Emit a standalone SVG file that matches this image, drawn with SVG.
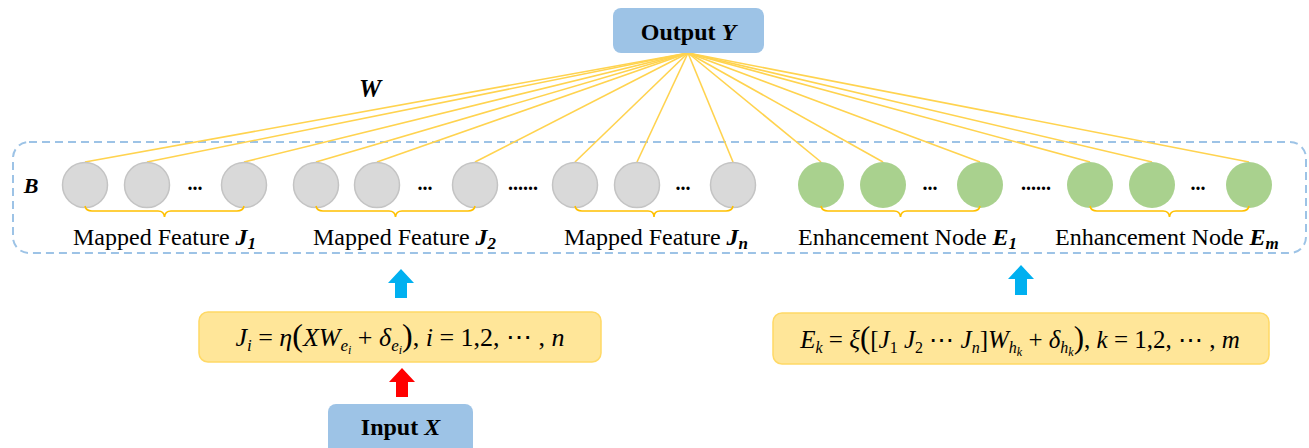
<svg xmlns="http://www.w3.org/2000/svg" width="1309" height="448" viewBox="0 0 1309 448">
<style>
.box{fill:#9DC3E6}
.fbox{fill:#FFE699;stroke:#FFD966;stroke-width:1.5}
.bi{font-weight:bold;font-style:italic}
.i{font-style:italic}
.g{fill:#D9D9D9;stroke:#C4C4C4;stroke-width:1.5}
.e{fill:#A9D18E}
.w{stroke:#FFD34F;stroke-width:1.6;fill:none}
.br{stroke:#FFC000;stroke-width:1.6;fill:none}
</style>
<rect x="13" y="142" width="1293" height="111" rx="16" fill="none" stroke="#9DC3E6" stroke-width="2" stroke-dasharray="8 5"/>
<g id="connectors">
<line class="w" x1="688" y1="53" x2="85" y2="162"/>
<line class="w" x1="688" y1="53" x2="147" y2="162"/>
<line class="w" x1="688" y1="53" x2="244" y2="162"/>
<line class="w" x1="688" y1="53" x2="316" y2="162"/>
<line class="w" x1="688" y1="53" x2="377" y2="162"/>
<line class="w" x1="688" y1="53" x2="475" y2="162"/>
<line class="w" x1="688" y1="53" x2="575" y2="162"/>
<line class="w" x1="688" y1="53" x2="637" y2="162"/>
<line class="w" x1="688" y1="53" x2="733" y2="162"/>
<line class="w" x1="688" y1="53" x2="821" y2="162"/>
<line class="w" x1="688" y1="53" x2="883" y2="162"/>
<line class="w" x1="688" y1="53" x2="980" y2="162"/>
<line class="w" x1="688" y1="53" x2="1090" y2="162"/>
<line class="w" x1="688" y1="53" x2="1152" y2="162"/>
<line class="w" x1="688" y1="53" x2="1249" y2="162"/>
<polygon fill="#00B0F0" points="401,269 414,283 407,283 407,298 395,298 395,283 388,283"/>
<polygon fill="#00B0F0" points="1021,265 1034,279 1027,279 1027,295 1015,295 1015,279 1008,279"/>
<polygon fill="#FF0000" points="402,368 415,382 408,382 408,397 396,397 396,382 389,382"/>
</g>
<g font-family="Liberation Serif, Times New Roman, serif" fill="#000">
<g id="output">
<rect class="box" x="613" y="8" width="151" height="45" rx="8"/>
<text x="688.5" y="40" font-size="24" font-weight="bold" text-anchor="middle">Output <tspan font-style="italic">Y</tspan></text>
</g>
<text x="370" y="97" font-size="25" font-weight="bold" font-style="italic" text-anchor="middle">W</text>
<text x="31" y="193" font-size="22" font-weight="bold" font-style="italic" text-anchor="middle">B</text>
<g font-size="20" font-weight="bold" text-anchor="middle">
<text x="195" y="190">...</text>
<text x="425" y="190">...</text>
<text x="523" y="190">......</text>
<text x="683" y="190">...</text>
<text x="930" y="190">...</text>
<text x="1036" y="190">......</text>
<text x="1198" y="190">...</text>
</g>
<g id="group-J1">
<circle class="g" cx="85" cy="185" r="22.5"/>
<circle class="g" cx="147" cy="185" r="22.5"/>
<circle class="g" cx="244" cy="185" r="22.5"/>
<path class="br" d="M85,206 Q86,211 92,211 L158,211 Q164,211 164.5,217 Q165,211 171,211 L237,211 Q243,211 244,206"/>
<text x="73" y="245" font-size="24">Mapped Feature <tspan class="bi">J</tspan><tspan class="bi" font-size="17" dy="4">1</tspan></text>
</g>
<g id="group-J2">
<circle class="g" cx="316" cy="185" r="22.5"/>
<circle class="g" cx="377" cy="185" r="22.5"/>
<circle class="g" cx="475" cy="185" r="22.5"/>
<path class="br" d="M316,206 Q317,211 323,211 L389,211 Q395,211 395.5,217 Q396,211 402,211 L468,211 Q474,211 475,206"/>
<text x="313" y="245" font-size="24">Mapped Feature <tspan class="bi">J</tspan><tspan class="bi" font-size="17" dy="4">2</tspan></text>
</g>
<g id="group-Jn">
<circle class="g" cx="575" cy="185" r="22.5"/>
<circle class="g" cx="637" cy="185" r="22.5"/>
<circle class="g" cx="733" cy="185" r="22.5"/>
<path class="br" d="M575,206 Q576,211 582,211 L648,211 Q654,211 654,217 Q654,211 660,211 L726,211 Q732,211 733,206"/>
<text x="564" y="245" font-size="24">Mapped Feature <tspan class="bi">J</tspan><tspan class="bi" font-size="17" dy="4">n</tspan></text>
</g>
<g id="group-E1">
<circle class="e" cx="821" cy="185" r="23"/>
<circle class="e" cx="883" cy="185" r="23"/>
<circle class="e" cx="980" cy="185" r="23"/>
<path class="br" d="M821,206 Q822,211 828,211 L894,211 Q900,211 900.5,217 Q901,211 907,211 L973,211 Q979,211 980,206"/>
<text x="798" y="245" font-size="24">Enhancement Node <tspan class="bi">E</tspan><tspan class="bi" font-size="17" dy="4">1</tspan></text>
</g>
<g id="group-Em">
<circle class="e" cx="1090" cy="185" r="23"/>
<circle class="e" cx="1152" cy="185" r="23"/>
<circle class="e" cx="1249" cy="185" r="23"/>
<path class="br" d="M1090,206 Q1091,211 1097,211 L1163,211 Q1169,211 1169.5,217 Q1170,211 1176,211 L1242,211 Q1248,211 1249,206"/>
<text x="1055" y="245" font-size="24">Enhancement Node <tspan class="bi">E</tspan><tspan class="bi" font-size="17" dy="4">m</tspan></text>
</g>
<g id="formula-J">
<rect class="fbox" x="199" y="312" width="402" height="50" rx="9"/>
<text x="400" y="346" font-size="26" text-anchor="middle"><tspan class="i">J</tspan><tspan class="i" font-size="17" dy="5">i</tspan><tspan dy="-5"> = </tspan><tspan class="i">η</tspan><tspan font-size="32">(</tspan><tspan class="i">XW</tspan><tspan class="i" font-size="17" dy="5">e</tspan><tspan class="i" font-size="12" dy="3">i</tspan><tspan dy="-8"> + </tspan><tspan class="i">δ</tspan><tspan class="i" font-size="17" dy="5">e</tspan><tspan class="i" font-size="12" dy="3">i</tspan><tspan font-size="32" dy="-8">)</tspan><tspan>, </tspan><tspan class="i">i</tspan><tspan> = 1,2, ⋯ , </tspan><tspan class="i">n</tspan></text>
</g>
<g id="formula-E">
<rect class="fbox" x="773" y="313" width="496" height="51" rx="9"/>
<text x="1020" y="348" font-size="25" text-anchor="middle"><tspan class="i">E</tspan><tspan class="i" font-size="16" dy="5">k</tspan><tspan dy="-5"> = </tspan><tspan class="i">ξ</tspan><tspan font-size="31">(</tspan><tspan>[</tspan><tspan class="i">J</tspan><tspan font-size="16" dy="5">1</tspan><tspan class="i" dy="-5"> J</tspan><tspan font-size="16" dy="5">2</tspan><tspan dy="-5"> ⋯ </tspan><tspan class="i">J</tspan><tspan class="i" font-size="16" dy="5">n</tspan><tspan dy="-5">]</tspan><tspan class="i">W</tspan><tspan class="i" font-size="16" dy="5">h</tspan><tspan class="i" font-size="12" dy="3">k</tspan><tspan dy="-8"> + </tspan><tspan class="i">δ</tspan><tspan class="i" font-size="16" dy="5">h</tspan><tspan class="i" font-size="12" dy="3">k</tspan><tspan font-size="31" dy="-8">)</tspan><tspan>, </tspan><tspan class="i">k</tspan><tspan> = 1,2, ⋯ , </tspan><tspan class="i">m</tspan></text>
</g>
<g id="input">
<rect class="box" x="328" y="404" width="145" height="56" rx="8"/>
<text x="400.5" y="435" font-size="24" font-weight="bold" text-anchor="middle">Input <tspan font-style="italic">X</tspan></text>
</g>
</g>
</svg>
